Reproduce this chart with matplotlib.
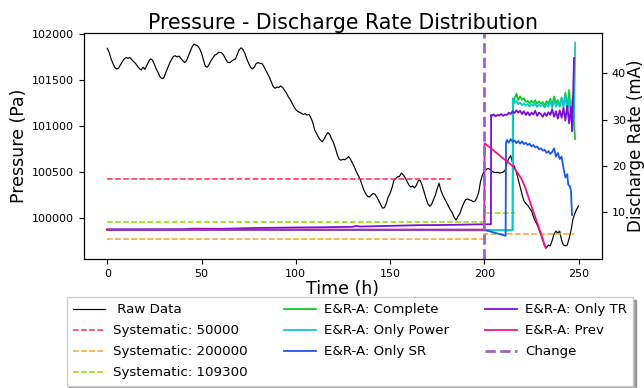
import matplotlib
matplotlib.use("Agg")
import matplotlib.pyplot as plt
import numpy as np

# --- raw pressure (Pa), hourly ---
raw_t = np.arange(0, 251)
raw_p = [
    101845, 101800, 101730, 101680, 101635, 101620, 101630, 101665, 101700, 101730,
    101745, 101735, 101745, 101720, 101700, 101680, 101650, 101625, 101610, 101640,
    101615, 101660, 101705, 101730, 101715, 101670, 101620, 101580, 101535, 101515,
    101525, 101580, 101630, 101680, 101720, 101755, 101765, 101750, 101760, 101735,
    101710, 101690, 101710, 101760, 101810, 101860, 101890, 101880, 101870, 101840,
    101790, 101720, 101650, 101640, 101670, 101710, 101740, 101770, 101780, 101800,
    101800, 101790, 101760, 101720, 101690, 101690, 101705, 101720, 101730, 101780,
    101830, 101850, 101830, 101790, 101730, 101680, 101640, 101620, 101640, 101680,
    101690, 101680, 101680, 101650, 101610, 101570, 101530, 101480, 101430, 101410,
    101425, 101420, 101435, 101420, 101390, 101360, 101320, 101290, 101250, 101210,
    101180, 101160, 101150, 101140, 101125, 101135, 101120, 101130, 101090, 101040,
    100960, 100920, 100880, 100850, 100830, 100860, 100900, 100930, 100910, 100860,
    100820, 100760, 100690, 100640, 100630, 100640, 100635, 100650, 100670, 100640,
    100600, 100560, 100510, 100470, 100430, 100370, 100310, 100270, 100240, 100230,
    100250, 100270, 100260, 100230, 100190, 100150, 100110, 100115, 100160, 100230,
    100270, 100330, 100410, 100430, 100450, 100455, 100490, 100470, 100440, 100400,
    100360, 100340, 100350, 100330, 100360, 100410, 100410, 100360, 100290, 100220,
    100160, 100130, 100150, 100200, 100250, 100320, 100380, 100300, 100250, 100210,
    100170, 100130, 100090, 100060, 100010, 99980, 100020, 100050, 100110, 100160,
    100200, 100210, 100200, 100195, 100180, 100185, 100220, 100280, 100400, 100470,
    100510, 100530, 100540, 100530, 100510, 100500, 100495, 100500, 100490, 100495,
    100500, 100520, 100600, 100650, 100680, 100600, 100560, 100500, 100420, 100340,
    100260, 100190, 100160, 100140, 100110, 100080, 100020, 99970, 99930, 99880,
    99820, 99760, 99700, 99680, 99710, 99700, 99760, 99830, 99860, 99840,
    99860, 99760, 99710, 99700, 99710, 99780, 99870, 99990, 100050, 100100,
    100135,
]

# --- systematic schedules (mA) ---
sys50_t = [0, 182.5]
sys50_v = [17.2, 17.2]
sys200_t = [0, 200, 200, 247.7]
sys200_v = [4.23, 4.23, 5.38, 5.38]
sys109_t = [0, 200, 200, 216.5]
sys109_v = [7.84, 7.84, 9.8, 9.8]

# --- E&R-A variants (mA) ---
complete_t = [0, 200, 215, 215.3, 216, 217, 218, 219, 220, 221, 222, 223, 224, 225, 226, 227,
              228, 229, 230, 231, 232, 233, 234, 235, 236, 237, 238, 239, 240, 241, 242, 243,
              244, 245, 246, 247, 247.6, 248.2]
complete_v = [6.24, 6.1, 6.1, 33.0, 34.5, 35.6, 34.2, 35.0, 34.3, 34.6, 33.8, 34.0, 33.5, 34.1,
              33.6, 34.2, 33.4, 33.9, 33.5, 33.8, 33.0, 34.0, 33.4, 34.5, 33.0, 35.0, 33.6, 34.2,
              32.8, 34.6, 33.2, 35.8, 32.5, 36.4, 31.0, 35.0, 29.0, 25.8]

power_t = [0, 200, 215, 215.1, 216, 217, 218, 219, 220, 221, 222, 223, 224, 225, 226, 227,
           228, 229, 230, 231, 232, 233, 234, 235, 236, 237, 238, 239, 240, 241, 242, 243,
           244, 245, 246, 247, 247.6, 248.2]
power_v = [6.24, 6.1, 6.1, 34.6, 33.6, 34.0, 33.3, 33.7, 33.1, 33.5, 33.0, 33.4, 32.8, 33.3,
           33.0, 33.5, 32.7, 33.2, 32.9, 33.4, 32.6, 33.3, 32.8, 33.9, 32.5, 34.2, 32.8, 33.6,
           33.0, 34.8, 32.5, 35.3, 32.0, 34.5, 31.5, 35.0, 30.0, 46.6]

sr_t = [0, 200, 211.3, 211.5, 212, 213, 214, 215, 216, 217, 218, 219, 220, 221, 222, 223, 224,
        225, 226, 227, 228, 229, 230, 231, 232, 233, 234, 235, 236, 237, 238, 239, 240, 241,
        242, 243, 244, 244.5, 245.5, 246, 246.5]
sr_v = [6.24, 6.2, 4.9, 25.0, 25.6, 25.0, 25.8, 25.2, 25.5, 24.9, 25.4, 24.8, 25.3, 24.7, 25.0,
        24.5, 24.8, 24.2, 24.5, 24.0, 24.2, 23.6, 23.8, 23.3, 23.5, 22.8, 23.2, 22.6, 23.0, 23.8,
        22.0, 22.8, 21.5, 22.0, 19.5, 17.5, 18.2, 16.0, 15.5, 14.5, 9.4]

tr_t = [0, 20, 40, 45, 60, 80, 100, 115, 130, 132, 134, 150, 165, 180, 200, 203.5, 203.6, 204,
        205, 206, 207, 208, 209, 210, 211, 212, 213, 214, 215, 216, 217, 218, 219, 220, 221, 222,
        223, 224, 225, 226, 227, 228, 229, 230, 231, 232, 233, 234, 235, 236, 237, 238, 239, 240,
        241, 242, 243, 244, 245, 246, 246.6, 247.6]
tr_v = [6.24, 6.26, 6.3, 6.45, 6.42, 6.6, 6.7, 6.75, 6.85, 7.05, 6.9, 7.05, 7.2, 7.25, 7.4, 7.4,
        31.0, 30.8, 31.1, 30.7, 31.0, 30.9, 31.2, 30.8, 31.1, 31.0, 31.5, 31.2, 31.8, 31.4, 32.0,
        31.5, 31.9, 31.2, 31.8, 31.0, 31.6, 30.9, 31.5, 31.1, 31.9, 30.8, 31.5, 31.2, 30.6, 31.4,
        30.8, 31.6, 31.0, 32.2, 30.6, 31.8, 30.2, 32.0, 30.4, 32.5, 29.8, 33.0, 29.2, 32.8, 27.5,
        43.3]

prev_t = [0, 200, 200.1, 205, 210, 215, 218, 220, 222, 225, 228, 230, 232.5]
prev_v = [6.24, 6.24, 24.9, 23.3, 21.6, 20.0, 18.3, 17.0, 15.0, 11.3, 7.8, 5.5, 2.3]

change_t = 200

fig = plt.figure(figsize=(6.44, 3.88), dpi=100)
ax1 = fig.add_axes([0.130, 0.3325, 0.805, 0.5825])
ax2 = ax1.twinx()

h_raw, = ax1.plot(raw_t, raw_p, color='black', lw=0.85, label=' Raw Data')

h_s1, = ax2.plot(sys50_t, sys50_v, '--', color='#ff2a50', lw=1.1, label='Systematic: 50000')
h_s2, = ax2.plot(sys200_t, sys200_v, '--', color='#ffa31a', lw=1.1, label='Systematic: 200000')
h_s3, = ax2.plot(sys109_t, sys109_v, '--', color='#8ddc00', lw=1.1, label='Systematic: 109300')

h_c, = ax2.plot(complete_t, complete_v, color='#12cc2e', lw=1.3, label='E&R-A: Complete')
h_p, = ax2.plot(power_t, power_v, color='#10c8c8', lw=1.3, label='E&R-A: Only Power')
h_sr, = ax2.plot(sr_t, sr_v, color='#1a5ae6', lw=1.3, label='E&R-A: Only SR')
h_tr, = ax2.plot(tr_t, tr_v, color='#7a10d8', lw=1.3, label='E&R-A: Only TR')
h_pv, = ax2.plot(prev_t, prev_v, color='#f0148c', lw=1.3, label='E&R-A: Prev')
h_ch = ax2.axvline(change_t, color='#a060d0', ls='--', lw=2, label='Change')

ax1.set_xlim(-12.5, 262.5)
ax1.set_ylim(99558, 102011)
ax2.set_ylim(-0.1, 48.7)
ax1.set_xticks([0, 50, 100, 150, 200, 250])
ax1.set_yticks([100000, 100500, 101000, 101500, 102000])
ax2.set_yticks([10, 20, 30, 40])
ax1.tick_params(labelsize=8)
ax2.tick_params(labelsize=8)

ax1.set_xlabel('Time (h)', fontsize=12.5, labelpad=1)
ax1.set_ylabel('Pressure (Pa)', fontsize=12.5, labelpad=3)
ax2.set_ylabel('Discharge Rate (mA)', fontsize=12, labelpad=0.5)
ax1.set_title('Pressure - Discharge Rate Distribution', fontsize=14.8, pad=3)

handles = [h_raw, h_s1, h_s2, h_s3, h_c, h_p, h_sr, h_tr, h_pv, h_ch]
fig.legend(handles=handles, labels=[h.get_label() for h in handles], ncol=3,
           loc='upper center', bbox_to_anchor=(0.5435, 0.242), fontsize=9.6,
           shadow=True, fancybox=False, columnspacing=2.7, handlelength=2.4,
           handletextpad=0.6, borderaxespad=0.2, borderpad=0.5, labelspacing=0.6,
           framealpha=1)

fig.savefig('out.png', dpi=100)
